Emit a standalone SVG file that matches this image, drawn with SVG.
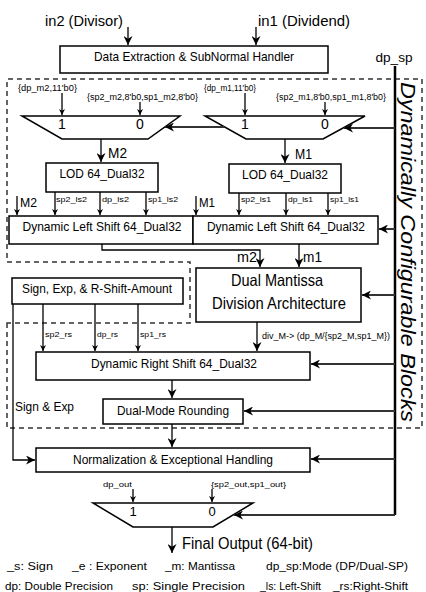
<svg xmlns="http://www.w3.org/2000/svg" width="426" height="592" viewBox="0 0 426 592">
<defs>
<marker id="ah" viewBox="0 0 10 10" refX="10" refY="5" markerWidth="9" markerHeight="9" markerUnits="userSpaceOnUse" orient="auto"><path d="M0,0 L10,5 L0,10 L3,5 Z" fill="#000"/></marker>
<marker id="as" viewBox="0 0 10 10" refX="10" refY="5" markerWidth="6" markerHeight="6" markerUnits="userSpaceOnUse" orient="auto"><path d="M0,0 L10,5 L0,10 L3,5 Z" fill="#000"/></marker>
</defs>
<style>
.box{fill:#fff;stroke:#000;stroke-width:1.5}
.mux{fill:#fff;stroke:#000;stroke-width:1.5}
.t{font-family:"Liberation Sans",Arial,sans-serif;fill:#000}
.c{text-anchor:middle}
.ln{fill:none;stroke:#000;stroke-width:1.3}
.lg{fill:none;stroke:#333;stroke-width:2}
.la{marker-end:url(#ah)}
.sa{marker-end:url(#as)}
.dash{fill:none;stroke:#333;stroke-width:1.5;stroke-dasharray:5,4}
</style>
<rect width="426" height="592" fill="#fff"/>

<path class="dash" d="M7,323 L7,428 L422,428 L422,79 L7,79 L7,262 L190,262 L190,323 Z"/>
<text class="t c" transform="translate(401,252) rotate(90)" font-size="20" font-style="italic" textLength="340" lengthAdjust="spacingAndGlyphs">Dynamically Configurable Blocks</text>

<g id="inputs">
<text class="t c" x="84" y="26" font-size="14" textLength="78" lengthAdjust="spacingAndGlyphs">in2 (Divisor)</text>
<text class="t c" x="304" y="26" font-size="14" textLength="92" lengthAdjust="spacingAndGlyphs">in1 (Dividend)</text>
<text class="t c" x="394" y="62" font-size="13" textLength="37" lengthAdjust="spacingAndGlyphs">dp_sp</text>
</g>

<g id="data_extraction">
<rect class="box" x="60" y="46" width="268" height="27"/>
<text class="t c" x="194" y="61" font-size="13" textLength="200" lengthAdjust="spacingAndGlyphs">Data Extraction &amp; SubNormal Handler</text>
</g>

<g id="mux_m2">
<polygon class="mux" points="22,116 180,116 148,139 62,139"/>
<text class="t c" x="62" y="129" font-size="14">1</text>
<text class="t c" x="140" y="129" font-size="14">0</text>
<text class="t" x="18" y="91" font-size="8.5" textLength="59" lengthAdjust="spacingAndGlyphs">{dp_m2,11'b0}</text>
<text class="t" x="87" y="100" font-size="8.5" textLength="111" lengthAdjust="spacingAndGlyphs">{sp2_m2,8'b0,sp1_m2,8'b0}</text>
</g>

<g id="mux_m1">
<polygon class="mux" points="205,116 365,116 323,139 246,139"/>
<text class="t c" x="245" y="129" font-size="14">1</text>
<text class="t c" x="325" y="129" font-size="14">0</text>
<text class="t" x="204" y="91" font-size="8.5" textLength="52" lengthAdjust="spacingAndGlyphs">{dp_m1,11'b0}</text>
<text class="t" x="276" y="100" font-size="8.5" textLength="110" lengthAdjust="spacingAndGlyphs">{sp2_m1,8'b0,sp1_m1,8'b0}</text>
</g>

<g id="lod2">
<rect class="box" x="46" y="163" width="112" height="29"/>
<text class="t c" x="102" y="178" font-size="13" textLength="85" lengthAdjust="spacingAndGlyphs">LOD 64_Dual32</text>
</g>
<g id="lod1">
<rect class="box" x="229" y="164" width="112" height="29"/>
<text class="t c" x="285" y="179" font-size="13" textLength="86" lengthAdjust="spacingAndGlyphs">LOD 64_Dual32</text>
</g>

<g id="dls2">
<rect class="box" x="9" y="216" width="184" height="28"/>
<text class="t c" x="102" y="231" font-size="13" textLength="159" lengthAdjust="spacingAndGlyphs">Dynamic Left Shift 64_Dual32</text>
</g>
<g id="dls1">
<rect class="box" x="193" y="216" width="185" height="28"/>
<text class="t c" x="286" y="231" font-size="13" textLength="158" lengthAdjust="spacingAndGlyphs">Dynamic Left Shift 64_Dual32</text>
</g>

<g id="dual_mantissa">
<rect class="box" x="196" y="268" width="165" height="54"/>
<text class="t c" x="277" y="286" font-size="16.5" textLength="92" lengthAdjust="spacingAndGlyphs">Dual Mantissa</text>
<text class="t c" x="279" y="309" font-size="16.5" textLength="134" lengthAdjust="spacingAndGlyphs">Division Architecture</text>
</g>

<g id="sign_exp">
<rect class="box" x="12" y="278" width="171" height="26"/>
<text class="t c" x="97" y="293" font-size="13" textLength="150" lengthAdjust="spacingAndGlyphs">Sign, Exp, &amp; R-Shift-Amount</text>
</g>

<g id="drs">
<rect class="box" x="36" y="352" width="274" height="28"/>
<text class="t c" x="174" y="368" font-size="13" textLength="166" lengthAdjust="spacingAndGlyphs">Dynamic Right Shift 64_Dual32</text>
</g>

<g id="rounding">
<rect class="box" x="103" y="399" width="140" height="25"/>
<text class="t c" x="173" y="415" font-size="13" textLength="112" lengthAdjust="spacingAndGlyphs">Dual-Mode Rounding</text>
</g>

<g id="normalization">
<rect class="box" x="36" y="448" width="274" height="24" stroke-width="2"/>
<text class="t c" x="173" y="464" font-size="13" textLength="200" lengthAdjust="spacingAndGlyphs">Normalization &amp; Exceptional Handling</text>
</g>

<g id="mux_out">
<polygon class="mux" points="93,503 253,503 213,527 133,527"/>
<text class="t c" x="133" y="516" font-size="13">1</text>
<text class="t c" x="212" y="516" font-size="13">0</text>
<text class="t" x="103" y="487" font-size="8" textLength="29" lengthAdjust="spacingAndGlyphs">dp_out</text>
<text class="t" x="211" y="487" font-size="8" textLength="75" lengthAdjust="spacingAndGlyphs">{sp2_out,sp1_out}</text>
</g>

<g id="output">
<text class="t" x="182" y="549" font-size="16" textLength="131" lengthAdjust="spacingAndGlyphs">Final Output (64-bit)</text>
</g>

<g id="legend" class="t" font-size="11.5">
<text x="7" y="570" textLength="46" lengthAdjust="spacingAndGlyphs">_s: Sign</text>
<text x="72" y="570" textLength="75" lengthAdjust="spacingAndGlyphs">_e : Exponent</text>
<text x="165" y="570" textLength="70" lengthAdjust="spacingAndGlyphs">_m: Mantissa</text>
<text x="266" y="570" textLength="142" lengthAdjust="spacingAndGlyphs">dp_sp:Mode (DP/Dual-SP)</text>
<text x="5" y="590" textLength="108" lengthAdjust="spacingAndGlyphs">dp: Double Precision</text>
<text x="132" y="590" textLength="113" lengthAdjust="spacingAndGlyphs">sp: Single Precision</text>
<text x="260" y="590" textLength="61" lengthAdjust="spacingAndGlyphs">_ls: Left-Shift</text>
<text x="333" y="590" textLength="75" lengthAdjust="spacingAndGlyphs">_rs:Right-Shift</text>
</g>

<g id="connectors">
<!-- inputs -->
<path class="ln la" d="M128,27 L128,45"/>
<path class="ln la" d="M256,27 L256,45"/>
<!-- mux inputs -->
<path class="ln sa" d="M62,93 L62,115"/>
<path class="ln sa" d="M140,102 L140,115"/>
<path class="ln sa" d="M245,93 L245,115"/>
<path class="ln sa" d="M325,102 L325,115"/>
<!-- dp_sp bus -->
<path d="M395,66 L395,515" fill="none" stroke="#000" stroke-width="2.5"/>
<path class="lg la" d="M395,128 L344,128"/>
<path class="lg la" d="M224,127 L165,127"/>
<path class="lg la" d="M395,229 L379,229"/>
<path class="lg la" d="M395,295 L362,295"/>
<path class="lg la" d="M395,364 L311,364"/>
<path class="lg la" d="M395,411 L244,411"/>
<path class="lg la" d="M395,459 L311,459"/>
<path class="lg la" d="M395,515 L234,515"/>
<!-- M2 / M1 -->
<path class="ln la" d="M101,139 L101,162"/>
<text class="t" x="108" y="158" font-size="14" textLength="19" lengthAdjust="spacingAndGlyphs">M2</text>
<path class="ln la" d="M285,139 L285,163"/>
<text class="t" x="295" y="159" font-size="14" textLength="17" lengthAdjust="spacingAndGlyphs">M1</text>
<!-- LOD outputs -->
<path class="ln sa" d="M55,192 L55,215"/>
<path class="ln sa" d="M100,192 L100,215"/>
<path class="ln sa" d="M146,192 L146,215"/>
<text class="t" x="56" y="202" font-size="8" textLength="31" lengthAdjust="spacingAndGlyphs">sp2_ls2</text>
<text class="t" x="102" y="202" font-size="8" textLength="27" lengthAdjust="spacingAndGlyphs">dp_ls2</text>
<text class="t" x="148" y="202" font-size="8" textLength="30" lengthAdjust="spacingAndGlyphs">sp1_ls2</text>
<path class="ln sa" d="M239,193 L239,215"/>
<path class="ln sa" d="M286,193 L286,215"/>
<path class="ln sa" d="M328,193 L328,215"/>
<text class="t" x="241" y="202" font-size="8" textLength="30" lengthAdjust="spacingAndGlyphs">sp2_ls1</text>
<text class="t" x="288" y="202" font-size="8" textLength="25" lengthAdjust="spacingAndGlyphs">dp_ls1</text>
<text class="t" x="330" y="202" font-size="8" textLength="29" lengthAdjust="spacingAndGlyphs">sp1_ls1</text>
<!-- M2 / M1 into DLS -->
<path class="ln sa" d="M17,196 L17,215"/>
<text class="t" x="20" y="207" font-size="13" textLength="17" lengthAdjust="spacingAndGlyphs">M2</text>
<path class="ln sa" d="M196,196 L196,215"/>
<text class="t" x="199" y="207" font-size="13" textLength="16" lengthAdjust="spacingAndGlyphs">M1</text>
<!-- m2 / m1 -->
<path class="ln la" d="M102,244 L102,250 L260,250 L260,267"/>
<text class="t" x="237" y="262" font-size="14" textLength="20" lengthAdjust="spacingAndGlyphs">m2</text>
<path class="ln la" d="M299,244 L299,267"/>
<text class="t" x="303" y="262" font-size="14" textLength="19" lengthAdjust="spacingAndGlyphs">m1</text>
<!-- div_M -->
<path class="ln la" d="M257,322 L257,351"/>
<text class="t" x="262" y="339" font-size="9" textLength="128" lengthAdjust="spacingAndGlyphs">div_M-&gt; (dp_M/{sp2_M,sp1_M})</text>
<!-- sign exp outputs -->
<path class="ln sa" d="M43,304 L43,351"/>
<path class="ln sa" d="M95,304 L95,351"/>
<path class="ln sa" d="M138,304 L138,351"/>
<text class="t" x="45" y="337" font-size="8" textLength="27" lengthAdjust="spacingAndGlyphs">sp2_rs</text>
<text class="t" x="97" y="337" font-size="8" textLength="21" lengthAdjust="spacingAndGlyphs">dp_rs</text>
<text class="t" x="140" y="337" font-size="8" textLength="26" lengthAdjust="spacingAndGlyphs">sp1_rs</text>
<!-- sign & exp path -->
<path class="ln la" d="M13,304 L13,460 L35,460" stroke-width="1.6"/>
<text class="t" x="15" y="411" font-size="13" textLength="59" lengthAdjust="spacingAndGlyphs">Sign &amp; Exp</text>
<!-- pipeline -->
<path class="ln la" d="M172,380 L172,398"/>
<path class="ln la" d="M172,424 L172,447"/>
<path class="ln sa" d="M133,489 L133,502"/>
<path class="ln sa" d="M212,489 L212,502"/>
<path class="ln la" d="M172,527 L172,553"/>
</g>
</svg>
